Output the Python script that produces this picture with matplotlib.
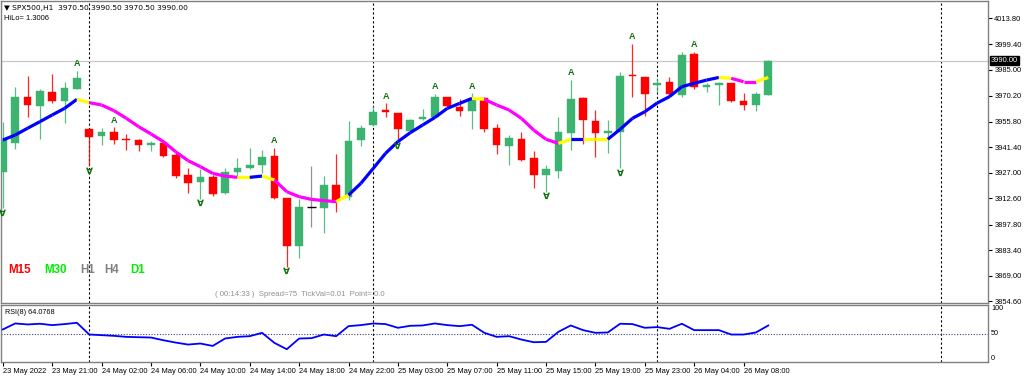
import matplotlib
matplotlib.use("Agg")
import matplotlib.pyplot as plt
import matplotlib.transforms as mtransforms
import numpy as np

plt.rcParams['font.family'] = ['Liberation Sans', 'DejaVu Sans']

# ---------------- data ----------------
opens = [3927.6, 3943.9, 3969.8, 3964.7, 3972.6, 3967.3, 3974.3, 3951.4, 3947.8, 3949.7,
         3946.0, 3945.4, 3942.4, 3943.5, 3937.0, 3925.7, 3921.9, 3924.4, 3915.4, 3927.2,
         3929.5, 3931.1, 3936.4, 3912.9, 3885.9, 3907.9, 3906.9, 3920.1, 3913.5, 3945.4,
         3953.8, 3962.1, 3960.4, 3950.6, 3957.0, 3958.5, 3969.4, 3964.1, 3961.9, 3968.8,
         3951.9, 3942.0, 3945.8, 3935.1, 3925.7, 3928.1, 3949.5, 3968.8, 3956.3, 3949.5,
         3950.1, 3981.9, 3980.6, 3976.3, 3977.8, 3970.7, 3993.8, 3975.4, 3976.3, 3977.3,
         3967.5, 3965.1, 3970.5]
highs = [3955.7, 3975.4, 3981.6, 3973.9, 3982.5, 3977.8, 3984.4, 3951.8, 3951.9, 3952.5,
         3948.6, 3946.1, 3944.8, 3945.4, 3938.8, 3929.8, 3928.9, 3925.7, 3929.8, 3935.1,
         3940.7, 3939.8, 3941.1, 3912.9, 3912.0, 3930.9, 3925.1, 3937.3, 3956.3, 3953.8,
         3964.7, 3966.0, 3960.8, 3957.4, 3962.6, 3971.1, 3969.8, 3968.4, 3971.6, 3969.4,
         3954.2, 3948.2, 3950.1, 3939.2, 3931.3, 3958.5, 3979.1, 3969.4, 3962.3, 3956.6,
         3983.5, 3999.4, 3981.0, 3980.1, 3980.6, 3994.7, 3995.1, 3977.6, 3978.2, 3977.6,
         3972.0, 3972.6, 3990.5]
lows = [3907.0, 3940.1, 3958.1, 3945.9, 3966.4, 3954.8, 3973.9, 3930.8, 3942.6, 3943.1,
        3939.8, 3939.2, 3939.4, 3935.6, 3924.2, 3915.4, 3912.4, 3914.1, 3914.8, 3924.8,
        3928.9, 3926.6, 3912.0, 3874.1, 3878.8, 3896.6, 3892.9, 3905.1, 3911.6, 3942.0,
        3953.3, 3958.5, 3944.4, 3950.1, 3956.6, 3958.1, 3964.1, 3958.9, 3951.4, 3950.1,
        3937.5, 3931.3, 3933.8, 3918.2, 3916.3, 3923.8, 3939.8, 3943.0, 3936.0, 3938.3,
        3929.4, 3969.4, 3959.1, 3972.6, 3969.4, 3969.8, 3974.1, 3972.6, 3965.1, 3967.0,
        3962.3, 3961.9, 3970.5]
closes = [3945.4, 3969.7, 3965.1, 3973.0, 3967.3, 3974.8, 3980.1, 3947.3, 3950.1, 3945.4,
          3945.2, 3942.6, 3943.5, 3936.4, 3925.3, 3921.4, 3924.8, 3915.0, 3927.2, 3929.6,
          3931.3, 3935.6, 3912.9, 3885.9, 3907.5, 3907.9, 3920.1, 3911.6, 3945.0, 3952.3,
          3960.9, 3961.3, 3951.4, 3956.6, 3958.5, 3969.4, 3964.5, 3961.9, 3967.9, 3951.4,
          3942.6, 3946.3, 3934.1, 3925.7, 3928.9, 3949.7, 3968.4, 3956.6, 3949.1, 3950.6,
          3981.4, 3981.2, 3971.1, 3977.3, 3971.3, 3993.2, 3975.4, 3976.5, 3977.1, 3967.5,
          3965.1, 3971.3, 3990.0]

ma_values = [3945.4, 3948.2, 3952.0, 3955.7, 3959.5, 3963.2, 3968.3, 3966.4, 3965.1, 3961.9,
             3957.6, 3952.9, 3948.8, 3944.5, 3938.8, 3933.8, 3930.4, 3926.6, 3925.1, 3924.4,
             3924.4, 3925.1, 3922.9, 3916.3, 3913.5, 3912.0, 3911.3, 3910.7, 3914.4, 3921.0,
             3929.4, 3937.9, 3944.5, 3949.5, 3953.8, 3958.1, 3963.2, 3966.0, 3968.8, 3968.3,
             3965.1, 3962.3, 3957.6, 3951.0, 3945.8, 3943.5, 3945.8, 3945.8, 3945.8, 3945.8,
             3951.4, 3957.6, 3961.3, 3966.2, 3969.8, 3975.4, 3977.3, 3979.1, 3980.6, 3980.1,
             3978.2, 3978.2, 3980.6]
# trend state of each MA segment: 1 rising, -1 falling, 0 turning
ma_trend = ([1] * 6 + [0] + [-1] * 12 + [0] + [1] + [0] + [-1] * 5 + [0] + [1] * 10 + [0]
            + [-1] * 6 + [0] + [1] + [0] * 2 + [1] * 9 + [0] + [-1] * 2 + [0])

rsi_values = [57.1, 67.6, 65.9, 67.1, 64.7, 66.5, 68.8, 48.2, 47.1, 45.9,
              44.1, 43.5, 42.9, 38.2, 34.1, 30.6, 32.4, 28.2, 41.2, 44.1,
              45.3, 51.2, 33.5, 22.4, 41.2, 41.8, 48.2, 45.3, 62.9, 64.7,
              67.6, 66.5, 60.0, 63.5, 64.1, 67.6, 64.7, 62.9, 65.3, 51.2,
              44.1, 45.3, 39.4, 34.7, 35.3, 52.9, 64.1, 55.9, 51.2, 51.8,
              67.1, 66.5, 60.0, 61.2, 58.2, 67.1, 55.9, 55.9, 55.9, 48.2,
              48.2, 51.8, 64.0768]

fractal_up = [6, 9, 22, 31, 35, 38, 46, 51, 56]
fractal_down = [0, 7, 16, 23, 32, 44, 50]
day_separators = [7, 30, 53, 76]

price_ticks = [4013.80, 3999.40, 3985.00, 3970.20, 3955.80, 3941.40, 3927.00,
               3912.60, 3897.80, 3883.40, 3869.00, 3854.60]
time_tick_bars = [0, 4, 8, 12, 16, 20, 24, 28, 32, 36, 40, 44, 48, 52, 56, 60]
time_tick_labels = ["23 May 2022", "23 May 21:00", "24 May 02:00", "24 May 06:00",
                    "24 May 10:00", "24 May 14:00", "24 May 18:00", "24 May 22:00",
                    "25 May 03:00", "25 May 07:00", "25 May 11:00", "25 May 15:00",
                    "25 May 19:00", "25 May 23:00", "26 May 04:00", "26 May 08:00"]
current_price = 3990.00
rsi_level = 50

# ---------------- figure ----------------
W, H = 1024, 379
fig = plt.figure(figsize=(W / 100, H / 100), dpi=100)
fig.patch.set_facecolor('white')

def fx(px):
    return px / W

def fy(py):
    return 1 - py / H

ax = fig.add_axes([fx(1), fy(303), fx(988) - fx(1), fy(1) - fy(303)])
axr = fig.add_axes([fx(1), fy(362), fx(988) - fx(1), fy(305) - fy(362)])

xlim = (-0.15, 79.8)
for a in (ax, axr):
    a.set_xlim(*xlim)
    for s in a.spines.values():
        s.set_color('#808080')
        s.set_linewidth(1.0)
    for d in day_separators:
        a.axvline(d, color='black', lw=0.8, ls=(0, (2, 2)), zorder=1)

ax.set_ylim(3853.7, 4023.6)

# current price line
ax.axhline(current_price, color='#c8c8c8', lw=0.9, zorder=1)

# candles
bull = '#3cb371'
bear = '#ff0000'
n = len(opens)
xs = np.arange(n)
for i in range(n):
    o, h, l, c = opens[i], highs[i], lows[i], closes[i]
    if c > o:
        col = bull
    elif c < o:
        col = bear
    else:
        col = '#808080'
    ax.vlines(i, l, h, color=col, lw=0.9, alpha=0.85, zorder=2)
    bot = min(o, c)
    hgt = max(abs(c - o), 0.9)
    if c == o:
        ax.hlines(o, i - 0.35, i + 0.35, color='black', lw=1.0, zorder=3)
    else:
        ax.bar(i, hgt, bottom=bot, width=0.62, color=col, edgecolor=col, lw=0.3, zorder=3)

# MA line coloured by trend
trend_colors = {1: '#0000ff', -1: '#ff00ff', 0: '#ffff00'}
for i, t in enumerate(ma_trend):
    ax.plot([i, i + 1], [ma_values[i], ma_values[i + 1]], color=trend_colors[t],
            lw=2.3, solid_capstyle='butt', zorder=4)

# fractal arrows
for i in fractal_up:
    ax.text(i, highs[i] + 1.6, 'A', color='#107010', fontsize=6.5, fontweight='bold',
            ha='center', va='bottom', zorder=5)
for i in fractal_down:
    ax.text(i, lows[i] - 0.3, '∀', color='#107010', fontsize=6.5, fontweight='bold',
            ha='center', va='top', zorder=5, family=['DejaVu Sans'])

# right axis of main chart
ax.yaxis.tick_right()
ax.set_yticks(price_ticks)
ax.set_yticklabels([f"{p:.2f}" for p in price_ticks])
ax.tick_params(axis='y', length=3, width=0.8, pad=1.5, labelsize=5.4, colors='black')
ax.tick_params(axis='x', bottom=False, labelbottom=False)
ax.text(1.003, current_price, f"{current_price:.2f}",
        transform=mtransforms.blended_transform_factory(ax.transAxes, ax.transData),
        ha='left', va='center', fontsize=5.4, color='white',
        bbox=dict(boxstyle='square,pad=0.15', fc='black', ec='black'), zorder=6, clip_on=False)

# texts in main chart
fig.text(fx(4), fy(8), '▼ SPX500,H1  3970.50 3990.50 3970.50 3990.00', fontsize=5.4,
         ha='left', va='center', color='black', family=['DejaVu Sans'])
fig.text(fx(4), fy(19), 'HiLo= 1.3006', fontsize=5.4, ha='left', va='center', color='black')

tf_labels = [('M15', '#ff0000', 8), ('M30', '#00ee00', 44), ('H1', '#808080', 80),
             ('H4', '#808080', 104), ('D1', '#00ee00', 130)]
for txt, col, px in tf_labels:
    fig.text(fx(px), fy(270), txt, color=col, fontsize=8.3, fontweight='bold',
             ha='left', va='center', family=['Liberation Sans'])

fig.text(fx(215), fy(295), '( 00:14:33 )  Spread=75  TickVal=0.01  Point= 0.0',
         fontsize=5.6, color='#909090', ha='left', va='center')

# RSI panel
axr.set_ylim(0, 100)
axr.plot(xs, rsi_values, color='#0000ff', lw=1.3, zorder=3)
axr.axhline(rsi_level, color='#404080', lw=0.8, ls=(0, (1, 1.5)), zorder=2)
axr.set_yticks([])
axr.text(0.004, 0.93, 'RSI(8) 64.0768', transform=axr.transAxes, fontsize=5.2,
         ha='left', va='top', color='black')
rt = mtransforms.blended_transform_factory(axr.transAxes, axr.transData)
axr.text(1.003, 100, '100', transform=rt, fontsize=5.2, ha='left', va='top', clip_on=False)
axr.text(1.003, 50, '50', transform=rt, fontsize=5.2, ha='left', va='center', clip_on=False)
axr.text(1.003, 0, '0', transform=rt, fontsize=5.2, ha='left', va='bottom', clip_on=False)

axr.set_xticks(time_tick_bars)
axr.set_xticklabels(time_tick_labels, ha='left')
axr.tick_params(axis='x', length=3, width=0.8, pad=1.5, labelsize=5.4, colors='black')

fig.savefig('out.png', dpi=100, facecolor='white')
